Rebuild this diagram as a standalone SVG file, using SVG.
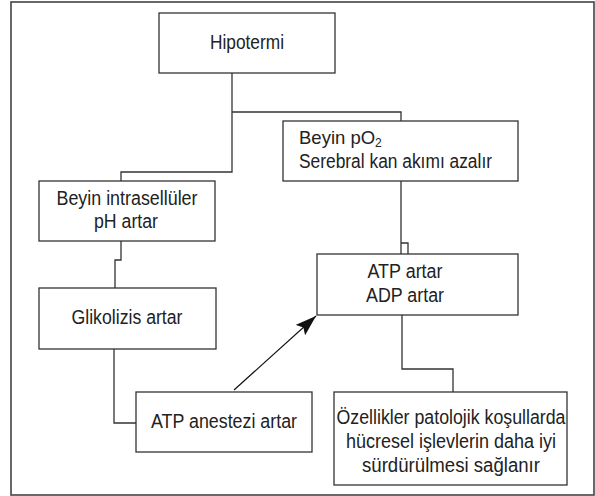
<svg xmlns="http://www.w3.org/2000/svg" width="595" height="496" viewBox="0 0 595 496">
<defs>
<style>
.box{fill:#fff;stroke:#333;stroke-width:1.3}
.ln{fill:none;stroke:#333;stroke-width:1.3}
.t{font-family:"Liberation Sans",Arial,sans-serif;font-size:20px;fill:#222}
.c{text-anchor:middle}
</style>
<marker id="ah" markerUnits="userSpaceOnUse" markerWidth="22" markerHeight="14" refX="21" refY="7" orient="auto">
<path d="M0,0 L21,7 L0,14 L4,7 z" fill="#111"/>
</marker>
</defs>
<rect x="11" y="2" width="583" height="493" fill="#fff" stroke="#444" stroke-width="1.6"/>
<g id="connectors">
<path class="ln" d="M232,73 V112" stroke-width="2.4"/>
<path class="ln" d="M232,112 H401 V121"/>
<path class="ln" d="M232,112 V172 H121 V181"/>
<path class="ln" d="M121,241 V260 H115 V288"/>
<path class="ln" d="M114,349 V423 H136"/>
<path class="ln" d="M401,181 V254 M401,243 H408 V254"/>
<path class="ln" d="M402,315 V369 H453 V392"/>
<line x1="234" y1="390" x2="316" y2="316" stroke="#111" stroke-width="1.2" marker-end="url(#ah)"/>
</g>
<g id="hipotermi">
<rect class="box" x="159" y="13" width="176" height="60"/>
<text class="t c" x="247" y="49" textLength="74" lengthAdjust="spacingAndGlyphs">Hipotermi</text>
</g>
<g id="beyin-po2">
<rect class="box" x="283" y="121" width="235" height="60"/>
<text class="t" x="299" y="144" style="font-size:18.5px">Beyin pO<tspan font-size="12" dy="3">2</tspan></text>
<text class="t" x="299" y="168" textLength="193" lengthAdjust="spacingAndGlyphs">Serebral kan akımı azalır</text>
</g>
<g id="beyin-ph">
<rect class="box" x="39" y="181" width="176" height="60"/>
<text class="t c" x="127" y="205" textLength="141" lengthAdjust="spacingAndGlyphs">Beyin intrasellüler</text>
<text class="t c" x="126" y="228" textLength="64" lengthAdjust="spacingAndGlyphs">pH artar</text>
</g>
<g id="atp-artar">
<rect class="box" x="317" y="254" width="201" height="61"/>
<text class="t c" x="405" y="278" textLength="75" lengthAdjust="spacingAndGlyphs">ATP artar</text>
<text class="t c" x="405" y="302" textLength="78" lengthAdjust="spacingAndGlyphs">ADP artar</text>
</g>
<g id="glikolizis">
<rect class="box" x="39" y="288" width="177" height="61"/>
<text class="t c" x="127" y="324" textLength="111" lengthAdjust="spacingAndGlyphs">Glikolizis artar</text>
</g>
<g id="atp-anestezi">
<rect class="box" x="136" y="392" width="176" height="60"/>
<text class="t c" x="224" y="428" textLength="146" lengthAdjust="spacingAndGlyphs">ATP anestezi artar</text>
</g>
<g id="ozellikler">
<rect class="box" x="334" y="392" width="233" height="93"/>
<text class="t c" x="451" y="424" textLength="229" lengthAdjust="spacingAndGlyphs">Özellikler patolojik koşullarda</text>
<text class="t c" x="451" y="448" textLength="210" lengthAdjust="spacingAndGlyphs">hücresel işlevlerin daha iyi</text>
<text class="t c" x="451" y="472" textLength="178" lengthAdjust="spacingAndGlyphs">sürdürülmesi sağlanır</text>
</g>
</svg>
